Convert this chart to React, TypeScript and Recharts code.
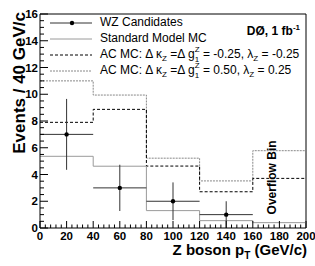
import {
  ComposedChart,
  Line,
  Scatter,
  ErrorBar,
  XAxis,
  YAxis,
  ReferenceLine,
  Legend,
} from 'recharts'

const FONT = '"Liberation Sans", Arial, Helvetica, sans-serif'

// histogram bins (GeV/c), each MC array holds one value per bin
const binEdges = [0, 40, 80, 120, 160, 200]
const smMC = [5.36, 4.62, 1.3, 0.55, 0.4]
const acNegMC = [7.9, 8.87, 4.63, 2.71, 3.71]
const acPosMC = [11.0, 9.94, 5.22, 3.52, 5.78]

// WZ candidates
const wzCenters = [20, 60, 100, 140]
const wzCounts = [7, 3, 2, 1]
const wzErrors = [2.65, 1.73, 1.41, 1.0]
const wzHalfBin = 20

const xMajorTicks = [0, 20, 40, 60, 80, 100, 120, 140, 160, 180, 200]
const yMajorTicks = [0, 2, 4, 6, 8, 10, 12, 14, 16]

const legendNames = ['WZ Candidates', 'Standard Model MC']
const acNegCoupling = { dk: '-0.25', lz: '-0.25' }
const acPosCoupling = { dk: '0.50', lz: '0.25' }

// minor ticks: split each major interval
const withMinor = (major: number[], parts: number) => {
  const out: number[] = []
  for (let i = 0; i < major.length - 1; i++) {
    const step = (major[i + 1] - major[i]) / parts
    for (let k = 0; k < parts; k++) out.push(major[i] + k * step)
  }
  out.push(major[major.length - 1])
  return out
}
const xTicks = withMinor(xMajorTicks, 5)
const yTicks = withMinor(yMajorTicks, 4)

const toSteps = (vals: number[]) =>
  binEdges.map((x, i) => ({ x, y: vals[Math.min(i, vals.length - 1)] }))

const wzData = wzCenters.map((x, i) => ({
  x,
  y: wzCounts[i],
  ex: wzHalfBin,
  ey: wzErrors[i],
}))

const XTick = (p: any) => {
  const v = p.payload.value
  const major = xMajorTicks.includes(v)
  return (
    <g>
      <line x1={p.x} x2={p.x} y1={p.y} y2={p.y - (major ? 7 : 3.5)} stroke="#000" />
      {major && (
        <text x={p.x} y={p.y + 12} textAnchor="middle" fontSize={11.5} fontWeight="bold" fontFamily={FONT} fill="#000">
          {v}
        </text>
      )}
    </g>
  )
}

const YTick = (p: any) => {
  const v = p.payload.value
  const major = yMajorTicks.includes(v)
  return (
    <g>
      <line x1={p.x} x2={p.x + (major ? 8 : 4)} y1={p.y} y2={p.y} stroke="#000" />
      {major && (
        <text x={p.x - 2} y={p.y} dy="0.35em" textAnchor="end" fontSize={11.5} fontWeight="bold" fontFamily={FONT} fill="#000">
          {v}
        </text>
      )}
    </g>
  )
}

const YTitle = (p: any) => {
  const vb = p.viewBox
  const x = vb.x + 25
  const y = vb.y - 2
  return (
    <text x={x} y={y} transform={`rotate(-90, ${x}, ${y})`} textAnchor="end" fontSize={17} fontWeight="bold" fontFamily={FONT} fill="#000">
      Events / 40 GeV/c
    </text>
  )
}

const XTitle = (p: any) => {
  const vb = p.viewBox
  return (
    <text x={vb.x + vb.width + 1} y={vb.y + 27} textAnchor="end" fontSize={15} fontWeight="bold" fontFamily={FONT} fill="#000">
      Z boson p<tspan fontSize={10} dy={4}>T</tspan>
      <tspan dy={-4}> (GeV/c)</tspan>
    </text>
  )
}

const OverflowLabel = (p: any) => {
  const vb = p.viewBox
  const x = vb.x - 3
  const y = vb.y + vb.height * (1 - 3.78 / 16)
  return (
    <text x={x} y={y} transform={`rotate(-90, ${x}, ${y})`} textAnchor="middle" fontSize={12} fontWeight="bold" fontFamily={FONT} fill="#000">
      Overflow Bin
    </text>
  )
}

const Sub = ({ children }: { children: any }) => (
  <span style={{ fontSize: 8, position: 'relative', top: 3 }}>{children}</span>
)

const SupSub = ({ sup, sub }: { sup: string; sub: string }) => (
  <span style={{ display: 'inline-block', position: 'relative', width: 5, height: 0 }}>
    <span style={{ position: 'absolute', left: 0, bottom: 4, fontSize: 8, lineHeight: '8px' }}>{sup}</span>
    <span style={{ position: 'absolute', left: 0, top: -2, fontSize: 8, lineHeight: '8px' }}>{sub}</span>
  </span>
)

const CouplingLabel = ({ dk, lz }: { dk: string; lz: string }) => (
  <>
    AC MC: Δ κ<Sub>Z</Sub> =Δ g<SupSub sup="Z" sub="1" /> = {dk}, λ<Sub>Z</Sub> = {lz}
  </>
)

const legendRowsY = [23, 39, 55, 71]

const LegendBox = () => {
  const labels = [
    legendNames[0],
    legendNames[1],
    <CouplingLabel {...acNegCoupling} />,
    <CouplingLabel {...acPosCoupling} />,
  ]
  return (
    <div style={{ position: 'relative', width: 315, height: 80, fontFamily: FONT, color: '#000' }}>
      <svg width={100} height={80} style={{ position: 'absolute', left: 0, top: 0 }}>
        <line x1={50} x2={92} y1={legendRowsY[0]} y2={legendRowsY[0]} stroke="#333" />
        <circle cx={72} cy={legendRowsY[0]} r={2.2} fill="#000" />
        <line x1={50} x2={92} y1={legendRowsY[1]} y2={legendRowsY[1]} stroke="#9a9a9a" />
        <line x1={50} x2={92} y1={legendRowsY[2]} y2={legendRowsY[2]} stroke="#000" strokeDasharray="3 2" />
        <line x1={50} x2={92} y1={legendRowsY[3]} y2={legendRowsY[3]} stroke="#888" strokeDasharray="2 1" />
      </svg>
      {labels.map((l, i) => (
        <div
          key={i}
          style={{
            position: 'absolute',
            left: 100,
            top: legendRowsY[i] - 8,
            fontSize: 12,
            lineHeight: '14px',
            whiteSpace: 'nowrap',
          }}
        >
          {l}
        </div>
      ))}
      <div
        style={{
          position: 'absolute',
          right: 15,
          top: 24,
          fontSize: 12,
          fontWeight: 'bold',
          lineHeight: '14px',
          whiteSpace: 'nowrap',
        }}
      >
        DØ, 1 fb<span style={{ fontSize: 8, position: 'relative', top: -5 }}>-1</span>
      </div>
    </div>
  )
}

const WzDot = (p: any) => <circle cx={p.cx} cy={p.cy} r={2.2} fill="#000" />

export default function App() {
  return (
    <div style={{ position: 'absolute', left: 0, top: 0, width: 315, height: 266, background: '#fff', fontFamily: FONT }}>
      <ComposedChart width={315} height={266} margin={{ top: 14, right: 9, bottom: 0, left: 0 }}>
        <XAxis
          type="number"
          dataKey="x"
          domain={[0, 200]}
          ticks={xTicks}
          interval={0}
          tickSize={0}
          tickMargin={0}
          tick={XTick}
          tickLine={false}
          axisLine={{ stroke: '#000' }}
          height={38}
          allowDataOverflow
          label={XTitle}
        />
        <YAxis
          type="number"
          domain={[0, 16]}
          ticks={yTicks}
          interval={0}
          tickSize={0}
          tickMargin={0}
          tick={YTick}
          tickLine={false}
          axisLine={{ stroke: '#000' }}
          width={40}
          allowDataOverflow
          label={YTitle}
        />
        <ReferenceLine x={200} stroke="#000" />
        <ReferenceLine y={16} stroke="#000" />
        <ReferenceLine x={180} stroke="none" label={OverflowLabel} />

        <Line data={toSteps(acPosMC)} dataKey="y" name="acPos" type="stepAfter" stroke="#888" strokeDasharray="2 1" dot={false} isAnimationActive={false} />
        <Line data={toSteps(acNegMC)} dataKey="y" name="acNeg" type="stepAfter" stroke="#000" strokeDasharray="3 2" dot={false} isAnimationActive={false} />
        <Line data={toSteps(smMC)} dataKey="y" name="sm" type="stepAfter" stroke="#9a9a9a" dot={false} isAnimationActive={false} />

        <Scatter data={wzData} dataKey="y" name="wz" shape={WzDot} isAnimationActive={false}>
          <ErrorBar dataKey="ex" direction="x" width={0} stroke="#333" strokeWidth={1} isAnimationActive={false} />
          <ErrorBar dataKey="ey" direction="y" width={0} stroke="#333" strokeWidth={1} isAnimationActive={false} />
        </Scatter>

        <Legend
          content={LegendBox}
          layout="horizontal"
          verticalAlign="middle"
          align="center"
          wrapperStyle={{ left: 0, top: 0, width: 315, height: 80 }}
        />
      </ComposedChart>
    </div>
  )
}
